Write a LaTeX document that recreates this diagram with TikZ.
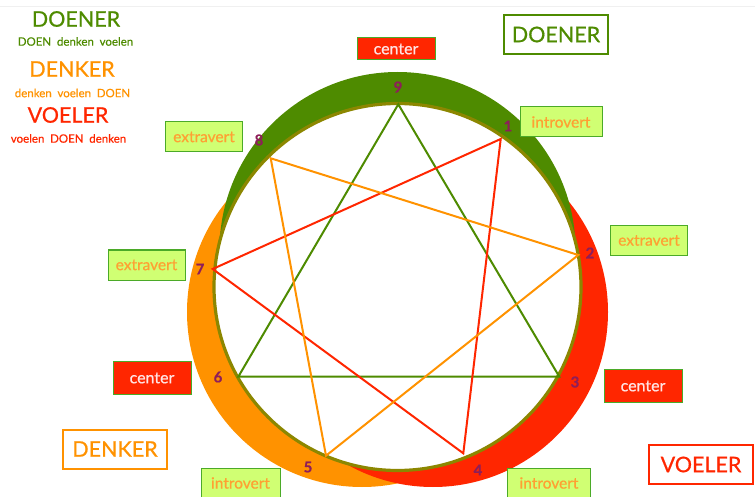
\documentclass[tikz,border=0pt]{standalone}
\usepackage{fontspec}
\setmainfont{Lato}[RawFeature={embolden=0.6}]
\usepackage{xcolor}
\usetikzlibrary{calc}

\definecolor{doengroen}{RGB}{78,139,0}
\definecolor{denkoranje}{RGB}{255,146,0}
\definecolor{voelrood}{RGB}{255,38,0}
\definecolor{olijf}{RGB}{140,135,0}
\definecolor{cijferkleur}{RGB}{142,30,90}
\definecolor{limoen}{RGB}{208,255,115}
\definecolor{randgroen}{RGB}{75,170,40}
\definecolor{roze}{RGB}{255,228,228}
\definecolor{vertoranje}{RGB}{255,160,50}

\tikzset{
  centerbox/.style={fill=voelrood, draw=randgroen, line width=1pt, text=roze, minimum width=78pt, minimum height=33pt, inner sep=0pt, font=\fontsize{16}{18}\selectfont},
  vertbox/.style={fill=limoen, draw=randgroen, line width=1pt, text=vertoranje, minimum width=77pt, minimum height=30pt, inner sep=0pt, font=\fontsize{15.5}{18}\selectfont},
  typebox/.style={fill=white, line width=2pt, minimum width=104pt, minimum height=39pt, inner sep=0pt, font=\fontsize{21.5}{24}\selectfont},
  cijfer/.style={text=cijferkleur, font=\bfseries\fontsize{15}{17}\selectfont, inner sep=0pt},
  legenda/.style={inner sep=0pt, font=\fontsize{21.5}{24}\selectfont},
  sublegenda/.style={inner sep=0pt, font=\fontsize{11.5}{13}\selectfont},
}

\begin{document}
\begin{tikzpicture}[x=1pt,y=-1pt]
\useasboundingbox (0,0) rectangle (755,497);

\draw[gray!12, line width=0.8pt] (0,6) -- (755,6);

% banden
\fill[denkoranje] (362,312) circle[radius=175pt];
\fill[voelrood] (433,312) circle[radius=175pt];
\fill[doengroen] (397.5,250) circle[radius=178pt];
\draw[olijf, fill=white, line width=3.2pt] (397.5,287) circle[radius=183.5pt];

\coordinate (v1) at (500.7,139);
\coordinate (v2) at (578.3,255);
\coordinate (v3) at (559.3,376.7);
\coordinate (v4) at (463.3,453.3);
\coordinate (v5) at (326,455.7);
\coordinate (v6) at (238.3,376.7);
\coordinate (v7) at (212.7,269);
\coordinate (v8) at (270.7,158.3);
\coordinate (v9) at (398.3,104.3);

\draw[line width=2pt, color=doengroen] (v9) -- (v3) -- (v6) -- cycle;
\draw[line width=2pt, color=voelrood] (v1) -- (v4) -- (v7) -- cycle;
\draw[line width=2pt, color=denkoranje] (v2) -- (v5) -- (v8) -- cycle;

\foreach \i/\x/\y in {9/398/87, 1/508/126, 2/590/253, 3/575/382, 4/478/470, 5/308/467, 6/218/377, 7/200/269, 8/259/140} {
    \node[cijfer] (n\i) at (\x,\y) {\i};
};

\node[centerbox, minimum height=22pt] (c9) at (396,49) {center};
\node[centerbox] (c3) at (643,386) {center};
\node[centerbox] (c6) at (152,378) {center};

\node[vertbox, minimum width=82pt] (i1) at (561,122) {introvert};
\node[vertbox] (e8) at (204,137) {extravert};
\node[vertbox] (e2) at (649,240.5) {extravert};
\node[vertbox] (e7) at (146.5,265) {extravert};
\node[vertbox, minimum width=79pt] (i5) at (240.5,483) {introvert};
\node[vertbox, minimum width=83pt] (i4) at (549,483) {introvert};

\node[typebox, draw=doengroen, text=doengroen] (tdoen) at (556,34.5) {DOENER};
\node[typebox, draw=denkoranje, text=denkoranje] (tdenk) at (115,449) {DENKER};
\node[typebox, draw=voelrood, text=voelrood] (tvoel) at (701,464.5) {VOELER};

\node[legenda, text=doengroen] (ldoen) at (76,19) {DOENER};
\node[sublegenda, text=doengroen] (sdoen) at (75.5,41.5) {DOEN\enspace denken\enspace voelen};
\node[legenda, text=denkoranje] (ldenk) at (72,69) {DENKER};
\node[sublegenda, text=denkoranje] (sdenk) at (72.5,93) {denken\enspace voelen\enspace DOEN};
\node[legenda, text=voelrood] (lvoel) at (68,115) {VOELER};
\node[sublegenda, text=voelrood] (svoel) at (68.5,138.5) {voelen\enspace DOEN\enspace denken};

\end{tikzpicture}
\end{document}
